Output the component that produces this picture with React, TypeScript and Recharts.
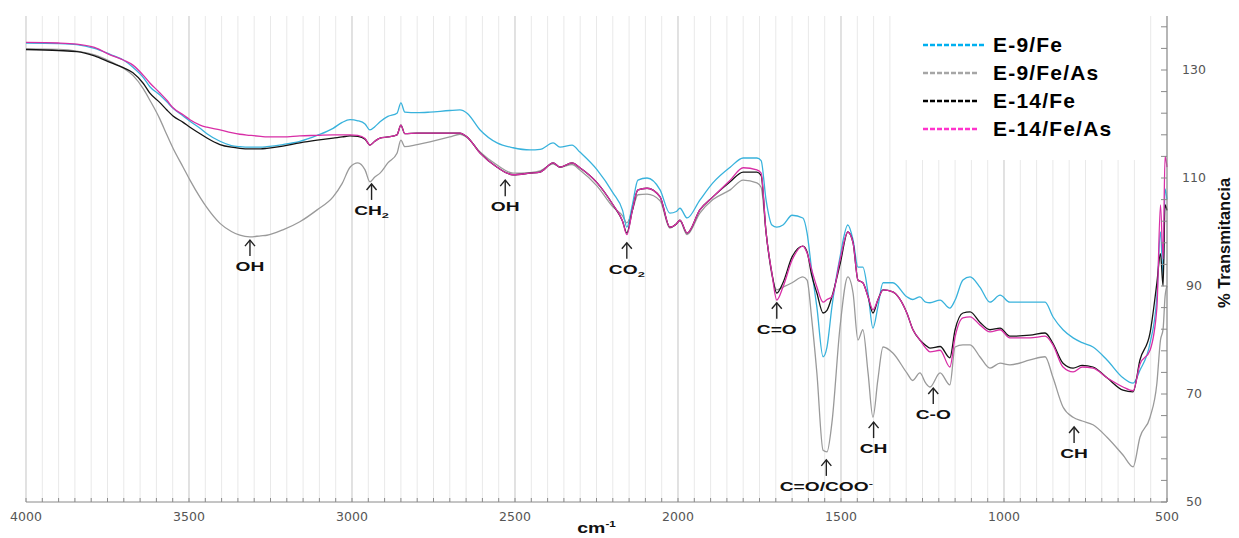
import React from 'react';
import {
  LineChart,
  Line,
  XAxis,
  YAxis,
  CartesianGrid,
  ReferenceLine,
  ReferenceDot,
  Legend
} from 'recharts';

// Número de onda (cm-1), de 4000 a 500
const wavenumbers = [
  4000, 3900, 3844, 3790, 3742, 3700, 3672, 3640, 3620, 3590, 3568, 3549, 3518, 3497, 3466, 3445,
  3405, 3370, 3344, 3313, 3280, 3261, 3212, 3160, 3107, 3058, 3030, 3006, 2982, 2960, 2945, 2930,
  2914, 2890, 2862, 2850, 2838, 2800, 2761, 2700, 2669, 2647, 2607, 2555, 2506, 2454, 2423, 2383,
  2362, 2325, 2301, 2248, 2199, 2170, 2157, 2140, 2123, 2095, 2055, 2025, 2005, 1994, 1972, 1933,
  1893, 1840, 1800, 1758, 1745, 1730, 1712, 1697, 1678, 1650, 1617, 1604, 1590, 1574, 1555, 1543,
  1528, 1503, 1479, 1463, 1448, 1433, 1417, 1402, 1387, 1371, 1341, 1298, 1280, 1258, 1240, 1227,
  1196, 1166, 1150, 1126, 1104, 1074, 1043, 1012, 982, 920, 874, 850, 819, 788, 760, 727,
  684, 635, 604, 583, 552, 531, 520, 512, 506, 500
];

// % Transmitancia por muestra
const e9Fe = [
  135.0, 134.9, 134.7, 134.0, 132.9, 131.8, 130.5, 128.6, 126.9, 125.4, 124.1, 122.9, 121.5, 120.5, 119.2, 118.2,
  116.8, 116.0, 115.8, 115.7, 115.7, 115.8, 116.2, 116.8, 117.9, 119.2, 120.3, 120.8, 120.6, 120.0, 118.9, 119.5,
  120.4, 121.4, 122.0, 123.9, 122.2, 122.1, 122.2, 122.5, 122.6, 122.0, 118.9, 116.5, 115.6, 115.2, 115.3, 116.5,
  115.7, 116.1, 114.8, 111.5, 107.2, 104.0, 100.9, 105.0, 109.6, 110.0, 107.8, 103.5, 103.8, 104.4, 102.6, 105.9,
  109.1, 112.0, 113.7, 113.7, 113.2, 106.0, 101.3, 100.9, 101.3, 103.1, 102.6, 99.8, 93.0, 86.1, 76.9, 78.7,
  86.1, 95.4, 101.3, 98.5, 93.5, 93.5, 88.7, 82.2, 86.1, 90.6, 90.6, 88.0, 87.5, 88.0, 87.0, 86.9,
  87.4, 85.9, 87.4, 91.1, 91.7, 89.8, 87.0, 88.3, 87.0, 87.0, 87.0, 84.3, 81.9, 80.4, 79.5, 78.7,
  76.3, 73.0, 72.0, 74.4, 79.4, 88.0, 100.0, 92.0, 108.0, 106.0
];

const e9FeAs = [
  133.9, 133.8, 133.5, 132.8, 131.6, 130.3, 129.0, 126.5, 124.4, 121.0, 118.0, 115.5, 112.0, 109.6, 106.4, 104.5,
  101.6, 100.1, 99.4, 99.1, 99.3, 99.4, 100.4, 101.9, 104.1, 106.5, 109.0, 112.0, 112.8, 111.5, 109.3, 110.2,
  110.9, 112.8, 114.6, 117.0, 115.8, 116.2, 116.7, 117.6, 118.1, 117.5, 114.8, 112.4, 110.9, 111.0, 111.3, 112.6,
  112.0, 112.5, 111.5, 108.5, 104.6, 103.0, 101.7, 104.0, 106.9, 107.0, 105.8, 100.7, 101.5, 102.0, 99.5, 103.5,
  106.0, 107.8, 109.6, 109.1, 108.3, 100.0, 92.0, 89.3, 89.8, 90.6, 91.7, 91.1, 84.0, 73.9, 59.6, 59.3,
  64.6, 82.4, 91.7, 88.7, 80.0, 81.9, 73.9, 65.7, 72.6, 78.7, 77.6, 73.9, 72.5, 73.9, 72.0, 71.3,
  73.9, 71.7, 78.7, 79.1, 79.1, 76.9, 74.8, 75.7, 75.4, 76.3, 76.9, 73.1, 67.6, 65.7, 65.0, 64.3,
  62.0, 58.7, 56.5, 62.0, 65.7, 72.0, 80.0, 82.0, 88.0, 90.0
];

const e14Fe = [
  133.8, 133.6, 133.4, 132.6, 131.4, 130.4, 129.5, 127.5, 125.7, 124.0, 122.6, 121.5, 120.3, 119.4, 118.2, 117.4,
  116.2, 115.7, 115.5, 115.4, 115.4, 115.5, 115.9, 116.5, 117.0, 117.4, 117.6, 117.8, 117.7, 117.2, 116.1, 116.8,
  117.4, 117.6, 118.0, 119.8, 118.2, 118.3, 118.3, 118.3, 118.3, 117.6, 114.6, 112.0, 110.6, 110.9, 111.1, 112.8,
  112.0, 112.8, 111.9, 109.1, 105.0, 102.0, 99.8, 104.0, 107.8, 108.1, 106.5, 100.9, 101.5, 102.2, 99.8, 104.1,
  106.5, 109.3, 111.1, 111.1, 110.5, 100.0, 92.4, 88.7, 90.6, 95.4, 97.4, 96.3, 92.0, 88.7, 85.0, 85.5,
  88.0, 94.0, 100.0, 98.0, 91.1, 90.6, 88.0, 85.0, 87.4, 89.3, 88.9, 85.0, 82.0, 80.0, 79.0, 78.5,
  78.8, 76.7, 81.9, 85.0, 85.2, 83.3, 81.9, 82.2, 80.7, 80.9, 81.3, 79.4, 75.7, 74.8, 75.3, 75.0,
  73.0, 70.7, 70.4, 76.3, 81.3, 90.6, 96.0, 90.0, 105.0, 104.0
];

const e14FeAs = [
  135.1, 135.0, 134.8, 134.2, 132.8, 131.8, 130.9, 129.0, 127.6, 125.8, 124.4, 123.0, 121.7, 120.8, 119.8, 119.4,
  118.9, 118.4, 118.1, 117.9, 117.7, 117.6, 117.6, 117.8, 117.9, 118.0, 118.0, 118.0, 117.9, 117.3, 116.1, 116.8,
  117.4, 117.6, 118.0, 119.8, 118.2, 118.3, 118.3, 118.3, 118.3, 117.6, 114.6, 112.0, 110.6, 110.9, 111.1, 112.8,
  112.0, 112.8, 111.9, 109.1, 105.0, 102.0, 99.5, 104.0, 107.8, 108.1, 106.5, 100.9, 101.5, 102.2, 99.8, 104.1,
  106.5, 109.6, 111.9, 111.5, 110.9, 100.0, 92.4, 87.4, 89.8, 94.8, 97.4, 96.1, 93.0, 89.8, 87.0, 87.5,
  88.0, 94.8, 100.0, 98.0, 91.1, 90.6, 88.0, 85.6, 87.4, 89.3, 88.9, 85.0, 82.0, 80.0, 78.5, 77.8,
  78.1, 75.0, 80.6, 84.1, 84.3, 82.8, 81.5, 81.9, 80.4, 80.4, 80.7, 79.1, 75.0, 74.1, 75.0, 74.8,
  73.0, 71.3, 70.6, 75.5, 78.1, 86.0, 105.0, 95.0, 114.0, 112.0
];

// Etiquetas de los ejes
const xLabelTicks = [4000, 3500, 3000, 2500, 2000, 1500, 1000, 500];
const yLabelTicks = [50, 70, 90, 110, 130];
const xMinorTicks = Array.from({ length: 71 }, (_, i) => 500 + i * 50);
const yMinorTicks = Array.from({ length: 23 }, (_, i) => 50 + i * 4);

// Bandas señaladas
const annotations = [
  { wn: 3313, value: 98.5, label: 'OH' },
  { wn: 2940, value: 108.9, label: 'CH', sub: '2' },
  { wn: 2530, value: 109.6, label: 'OH' },
  { wn: 2157, value: 98.0, label: 'CO', sub: '2' },
  { wn: 1697, value: 86.9, label: 'C=O' },
  { wn: 1545, value: 57.8, label: 'C=O/COO', sup: '-' },
  { wn: 1400, value: 64.8, label: 'CH' },
  { wn: 1217, value: 71.1, label: 'C-O' },
  { wn: 785, value: 63.9, label: 'CH' }
];

const series = [
  { key: 'e9FeAs', name: 'E-9/Fe/As', color: '#9a9a9a', legend: '#a6a6a6' },
  { key: 'e9Fe', name: 'E-9/Fe', color: '#38b2dc', legend: '#00b0f0' },
  { key: 'e14Fe', name: 'E-14/Fe', color: '#141414', legend: '#000000' },
  { key: 'e14FeAs', name: 'E-14/Fe/As', color: '#d82ea6', legend: '#ff33cc' }
];
const legendOrder = ['e9Fe', 'e9FeAs', 'e14Fe', 'e14FeAs'];

const data = wavenumbers.map((wn, i) => ({
  wn,
  e9Fe: e9Fe[i],
  e9FeAs: e9FeAs[i],
  e14Fe: e14Fe[i],
  e14FeAs: e14FeAs[i]
}));

const XTick = (props: any) => {
  const { x, y, payload } = props;
  const showLabel = xLabelTicks.includes(payload.value);
  return (
    <g>
      <line x1={x} x2={x} y1={y - 4} y2={y} stroke="#8a8a8a" strokeWidth={1} />
      {showLabel && (
        <text x={x} y={y + 19} textAnchor="middle" fontFamily="DejaVu Sans" fontSize={12.5} fill="#555">
          {payload.value}
        </text>
      )}
    </g>
  );
};

const YTick = (props: any) => {
  const { x, y, payload } = props;
  const showLabel = yLabelTicks.includes(payload.value);
  return (
    <g>
      <line x1={x - 6} x2={x} y1={y} y2={y} stroke="#8a8a8a" strokeWidth={1} />
      {showLabel && (
        <text x={x + 27} y={y + 4} textAnchor="middle" fontFamily="DejaVu Sans" fontSize={12.5} fill="#555">
          {payload.value}
        </text>
      )}
    </g>
  );
};

// Flecha + texto de la banda
const Annotation = (props: any) => {
  const { cx, cy, item } = props;
  if (cx == null || cy == null) return null;
  return (
    <g>
      <line x1={cx} x2={cx} y1={cy} y2={cy + 16} stroke="#222" strokeWidth={1.4} />
      <polyline
        points={`${cx - 5},${cy + 6} ${cx},${cy} ${cx + 5},${cy + 6}`}
        fill="none"
        stroke="#222"
        strokeWidth={1.4}
      />
      <text
        transform={`translate(${cx},${cy + 31}) scale(1.6,1)`}
        textAnchor="middle"
        fontFamily="Liberation Sans, Arial, sans-serif"
        fontWeight="bold"
        fontSize={12}
        fill="#111"
      >
        {item.label}
        {item.sub && (
          <tspan fontSize={8} dy={3}>
            {item.sub}
          </tspan>
        )}
        {item.sup && (
          <tspan fontSize={8} dy={-5}>
            {item.sup}
          </tspan>
        )}
      </text>
    </g>
  );
};

const LegendBox = () => (
  <div
    style={{
      background: '#fff',
      width: 237,
      height: 145,
      boxSizing: 'border-box',
      paddingTop: 16
    }}
  >
    {legendOrder.map((k) => {
      const s = series.find((d) => d.key === k)!;
      return (
        <div key={k} style={{ display: 'flex', alignItems: 'center', height: 28 }}>
          <svg width={90} height={10}>
            <line
              x1={20}
              x2={k === 'e9Fe' ? 82 : 76}
              y1={5}
              y2={5}
              stroke={s.legend}
              strokeWidth={2.5}
              strokeDasharray="5 2"
            />
          </svg>
          <span
            style={{
              fontFamily: 'Liberation Sans, Arial, sans-serif',
              fontWeight: 'bold',
              fontSize: 21,
              letterSpacing: 1.2,
              color: '#000'
            }}
          >
            {s.name}
          </span>
        </div>
      );
    })}
  </div>
);

export default function App() {
  return (
    <div style={{ position: 'absolute', left: 0, top: 0, width: 1239, height: 538, background: '#fff' }}>
      <LineChart width={1239} height={538} data={data} margin={{ top: 16, right: 0, bottom: 0, left: 26 }}>
        <CartesianGrid horizontal={false} vertical stroke="#e9e9e9" />
        {xLabelTicks.map((v) => (
          <ReferenceLine key={v} x={v} stroke="#cfcfcf" strokeWidth={1} />
        ))}
        <XAxis
          dataKey="wn"
          type="number"
          domain={[500, 4000]}
          reversed
          ticks={xMinorTicks}
          interval={0}
          tickSize={0}
          tickMargin={0}
          tick={<XTick />}
          height={36}
          stroke="#8a8a8a"
          label={({ viewBox }: any) => (
            <text
              transform={`translate(${viewBox.x + viewBox.width / 2},${viewBox.y + 31}) scale(1.3,1)`}
              textAnchor="middle"
              fontFamily="Liberation Sans, Arial, sans-serif"
              fontWeight="bold"
              fontSize={15}
              fill="#111"
            >
              cm
              <tspan fontSize={9} dy={-6}>
                -1
              </tspan>
            </text>
          )}
        />
        <YAxis
          orientation="right"
          type="number"
          domain={[50, 140]}
          ticks={yMinorTicks}
          interval={0}
          tickSize={0}
          tickMargin={0}
          tick={<YTick />}
          width={72}
          stroke="#8a8a8a"
          label={({ viewBox }: any) => (
            <text
              transform={`translate(${viewBox.x + 63},${viewBox.y + viewBox.height / 2 - 16}) rotate(-90)`}
              textAnchor="middle"
              fontFamily="Liberation Sans, Arial, sans-serif"
              fontWeight={600}
              fontSize={16.5}
              fill="#111"
            >
              % Transmitancia
            </text>
          )}
        />
        <Legend
          layout="vertical"
          align="center"
          verticalAlign="middle"
          content={() => <LegendBox />}
          wrapperStyle={{ left: 903, top: 15, width: 237, height: 145 }}
        />
        {series.map((s) => (
          <Line
            key={s.key}
            type="monotone"
            dataKey={s.key}
            name={s.name}
            stroke={s.color}
            strokeWidth={1.3}
            dot={false}
            isAnimationActive={false}
          />
        ))}
        {annotations.map((a) => (
          <ReferenceDot
            key={`${a.label}-${a.wn}`}
            x={a.wn}
            y={a.value}
            r={0}
            shape={(p: any) => <Annotation {...p} item={a} />}
          />
        ))}
      </LineChart>
    </div>
  );
}
